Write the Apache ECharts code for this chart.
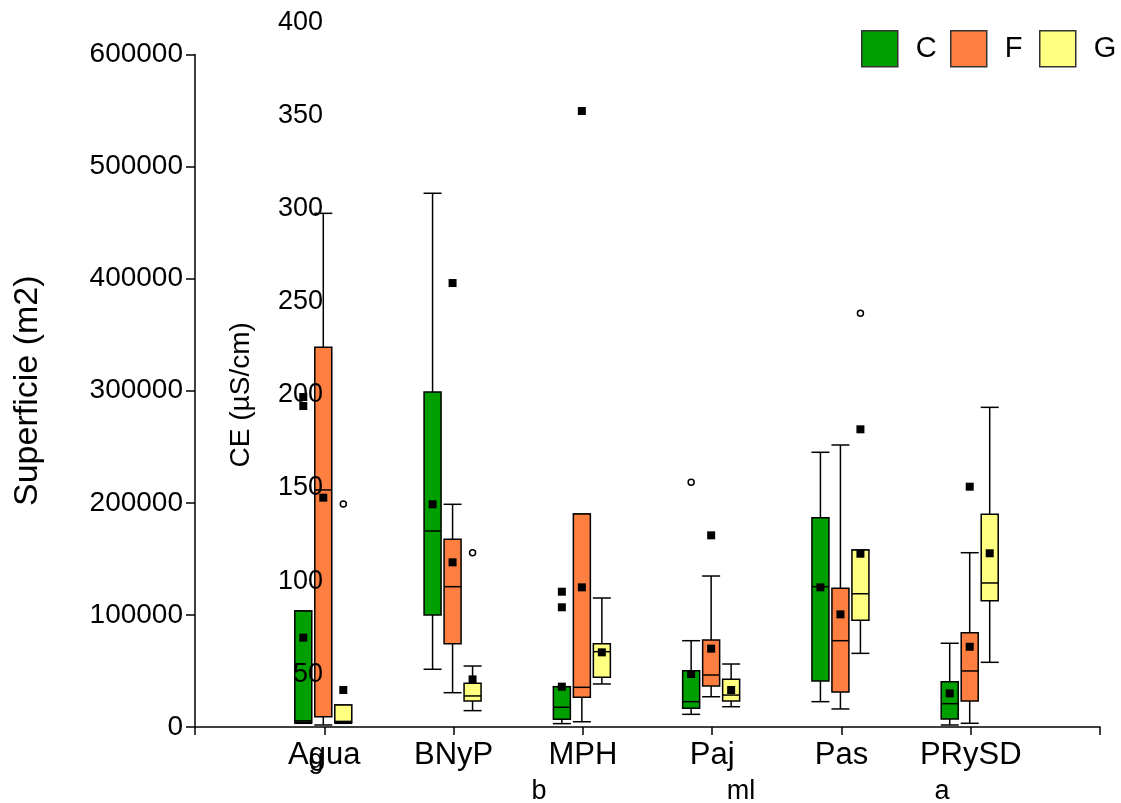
<!DOCTYPE html>
<html>
<head>
<meta charset="utf-8">
<script src="https://cdn.jsdelivr.net/npm/echarts@6/dist/echarts.min.js"></script>
<style>html,body{margin:0;padding:0;background:#fff}#chart{width:1121px;height:803px}</style>
</head>
<body>
<div id="chart"></div>
<script>
// ---- data ----
const categories = ['', 'Agua', 'BNyP', 'MPH', 'Paj', 'Pas', 'PRySD', ' '];
const yTicks = [0, 100000, 200000, 300000, 400000, 500000, 600000];
const ceTicks = [50, 100, 150, 200, 250, 300, 350, 400];
const groups = ['C', 'F', 'G'];
// [min, q1, median, q3, max] for Agua, BNyP, MPH, Paj, Pas, PRySD
const boxC = [
  [3300, 4200, 5500, 103500, 103500],
  [51500, 99900, 174900, 298900, 476200],
  [3000, 6900, 17600, 36000, 36000],
  [11300, 16700, 22600, 50200, 77000],
  [22600, 41000, 125200, 186700, 245100],
  [1800, 7100, 20800, 40400, 74700]
];
const boxF = [
  [1800, 9200, 211500, 338800, 458300],
  [30600, 74300, 125200, 167500, 198700],
  [4700, 26500, 35400, 190000, 190000],
  [27000, 36600, 46400, 77600, 134700],
  [16100, 31200, 77000, 123700, 251600],
  [3300, 23200, 50000, 84100, 155500]
];
const boxG = [
  [3300, 4200, 5000, 19600, 19600],
  [14600, 23200, 27700, 39000, 54400],
  [38400, 44300, 67200, 74300, 115100],
  [18100, 23200, 28500, 42500, 56200],
  [65700, 95200, 118900, 157900, 157900],
  [57700, 112700, 128500, 189800, 285200]
];
const meanC = [79700, 198700, 36000, 47300, 124600, 30000];
const meanF = [204600, 146900, 124600, 69900, 100500, 71600];
const meanG = [33000, 42500, 66600, 33000, 154600, 155000];
// outliers: [category, value]
const outSquareC = [['Agua', 294400], ['Agua', 286400], ['MPH', 120700], ['MPH', 106800]];
const outSquareF = [['BNyP', 396100], ['MPH', 549600], ['Paj', 171000], ['PRySD', 214400]];
const outSquareG = [['Pas', 265600]];
const outCircleC = [['Paj', 218300]];
const outCircleF = [];
const outCircleG = [['Agua', 199000], ['BNyP', 155500], ['Pas', 369100]];
const letters = ['g', 'b', 'ml', 'a'];

// ---- styling ----
const FONT = 'Arial, "Liberation Sans", sans-serif';
const colors = {C: '#009f00', F: '#ff7f40', G: '#ffff80'};
const offsets = {C: -21, F: -1, G: 19};
const legendLeft = {C: 861, F: 950, G: 1039};
const boxes = {C: boxC, F: boxF, G: boxG};
const means = {C: meanC, F: meanF, G: meanG};
const outSq = {C: outSquareC, F: outSquareF, G: outSquareG};
const outCi = {C: outCircleC, F: outCircleF, G: outCircleG};

function makeRender(offset, color) {
  return function (params, api) {
    const x = api.value(0);
    const cx = api.coord([x, 0])[0] + offset;
    const yMin = api.coord([x, api.value(1)])[1];
    const yQ1 = api.coord([x, api.value(2)])[1];
    const yMed = api.coord([x, api.value(3)])[1];
    const yQ3 = api.coord([x, api.value(4)])[1];
    const yMax = api.coord([x, api.value(5)])[1];
    const bw = 17, cw = 18;
    const ls = {stroke: '#000', lineWidth: 1.5};
    return {
      type: 'group',
      children: [
        {type: 'line', shape: {x1: cx, y1: yMax, x2: cx, y2: yQ3}, style: ls},
        {type: 'line', shape: {x1: cx, y1: yQ1, x2: cx, y2: yMin}, style: ls},
        {type: 'line', shape: {x1: cx - cw / 2, y1: yMax, x2: cx + cw / 2, y2: yMax}, style: ls},
        {type: 'line', shape: {x1: cx - cw / 2, y1: yMin, x2: cx + cw / 2, y2: yMin}, style: ls},
        {type: 'rect', shape: {x: cx - bw / 2, y: yQ3, width: bw, height: yQ1 - yQ3},
         style: {fill: color, stroke: '#000', lineWidth: 1.5}},
        {type: 'line', shape: {x1: cx - bw / 2, y1: yMed, x2: cx + bw / 2, y2: yMed}, style: ls}
      ]
    };
  };
}

const series = [];
groups.forEach(function (g) {
  series.push({
    name: g,
    type: 'custom',
    xAxisIndex: 0, yAxisIndex: 0,
    itemStyle: {color: colors[g], borderColor: '#333', borderWidth: 1.5},
    renderItem: makeRender(offsets[g], colors[g]),
    encode: {x: 0, y: [1, 2, 3, 4, 5]},
    data: boxes[g].map(function (b, i) { return [i + 1].concat(b); }),
    z: 2
  });
});
groups.forEach(function (g) {
  series.push({
    name: g + ' mean', type: 'scatter', xAxisIndex: 0, yAxisIndex: 0,
    symbol: 'rect', symbolSize: 8, symbolOffset: [offsets[g], 0],
    itemStyle: {color: '#000', opacity: 1}, z: 5, silent: true,
    data: means[g].map(function (v, i) { return [i + 1, v]; })
  });
  series.push({
    name: g + ' outlier', type: 'scatter', xAxisIndex: 0, yAxisIndex: 0,
    symbol: 'rect', symbolSize: 8, symbolOffset: [offsets[g], 0],
    itemStyle: {color: '#000', opacity: 1}, z: 5, silent: true,
    data: outSq[g].map(function (d) { return [categories.indexOf(d[0]), d[1]]; })
  });
  series.push({
    name: g + ' far', type: 'scatter', xAxisIndex: 0, yAxisIndex: 0,
    symbol: 'circle', symbolSize: 6, symbolOffset: [offsets[g], 0],
    itemStyle: {color: '#fff', borderColor: '#000', borderWidth: 1.5, opacity: 1}, z: 5, silent: true,
    data: outCi[g].map(function (d) { return [categories.indexOf(d[0]), d[1]]; })
  });
});

const letterPos = [[316, 761], [539, 792], [741, 792], [942, 792]];

const option = {
  animation: false,
  backgroundColor: '#fff',
  textStyle: {fontFamily: FONT, color: '#000'},
  legend: groups.map(function (g) {
    return {
      data: [{name: g, icon: 'rect', itemStyle: {color: colors[g], borderColor: '#333', borderWidth: 1.5}}],
      top: 30, left: legendLeft[g], padding: 0,
      itemWidth: 36, itemHeight: 36,
      textStyle: {fontSize: 29, color: '#000', fontFamily: FONT, padding: [0, 0, 0, 13]},
      selectedMode: false
    };
  }),
  grid: [
    {left: 195, right: 21, top: 54.5, bottom: 76, containLabel: false},
    {left: 335, right: 21, top: 22.3, bottom: 35.7, containLabel: false}
  ],
  xAxis: [
    {
      type: 'category', gridIndex: 0, data: categories, boundaryGap: false,
      axisLine: {lineStyle: {color: '#000', width: 1.5}},
      axisTick: {show: true, length: 8, lineStyle: {color: '#000', width: 1.5}},
      axisLabel: {fontSize: 31, color: '#000', margin: 13, fontFamily: FONT, interval: 0},
      splitLine: {show: false}
    },
    {type: 'value', gridIndex: 1, show: false, min: 0, max: 1}
  ],
  yAxis: [
    {
      type: 'value', gridIndex: 0, min: 0, max: 600000, interval: 100000,
      name: 'Superficie (m2)', nameLocation: 'middle', nameGap: 150,
      nameTextStyle: {fontSize: 34, color: '#000', fontFamily: FONT},
      axisLine: {show: true, lineStyle: {color: '#000', width: 1.5}},
      axisTick: {show: true, length: 9, lineStyle: {color: '#000', width: 1.5}},
      axisLabel: {fontSize: 28, color: '#000', margin: 12, fontFamily: FONT,
        formatter: function (v) { return yTicks.indexOf(v) >= 0 ? String(v) : ''; }},
      splitLine: {show: false}
    },
    {
      type: 'value', gridIndex: 1, min: 0, max: 400, interval: 50, z: 10,
      name: 'CE (µS/cm)', nameLocation: 'middle', nameGap: 80,
      nameTextStyle: {fontSize: 28, color: '#000', fontFamily: FONT},
      axisLine: {show: false}, axisTick: {show: false},
      axisLabel: {fontSize: 27, color: '#000', margin: 12, fontFamily: FONT,
        formatter: function (v) { return ceTicks.indexOf(v) >= 0 ? String(v) : ''; }},
      splitLine: {show: false}
    }
  ],
  graphic: letters.map(function (t, i) {
    return {type: 'text', x: letterPos[i][0], y: letterPos[i][1], z: 20,
      style: {text: t, fontSize: 27, fontFamily: FONT, fill: '#000', align: 'center', verticalAlign: 'middle'}};
  }),
  series: series
};

const chart = echarts.init(document.getElementById('chart'), null, {renderer: 'canvas'});
chart.setOption(option);
</script>
</body>
</html>
